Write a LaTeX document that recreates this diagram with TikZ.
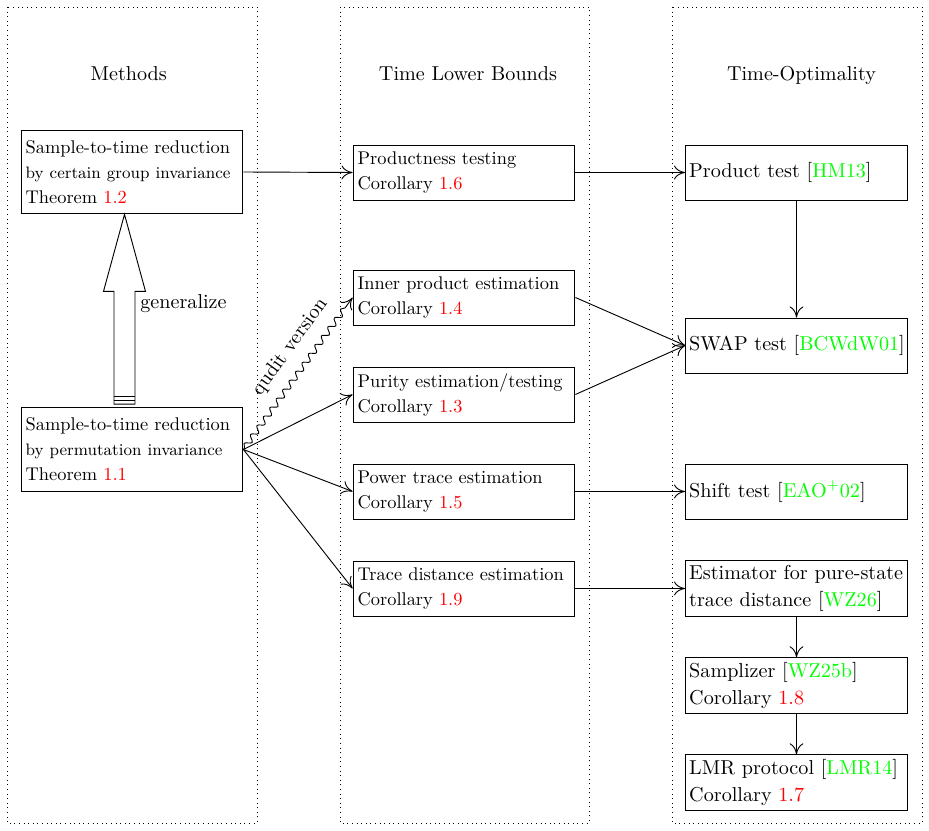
\documentclass[tikz,border=0pt]{standalone}
\usetikzlibrary{decorations.pathmorphing,arrows.meta,calc}
\begin{document}
\begin{tikzpicture}[x=0.5435pt,y=-0.5435pt,
  box/.style={draw, line width=0.5pt, rectangle, inner sep=2.5pt, text width=115.6pt,
    minimum height=29.9pt, align=left, font=\fontsize{10}{13.6}\selectfont},
  rbox/.style={box, inner xsep=2pt, text width=116.6pt, font=\fontsize{10.95}{14.6}\selectfont},
  bigbox/.style={box, minimum height=45.6pt},
  col/.style={draw, dotted, line width=0.5pt},
  head/.style={anchor=base, font=\fontsize{10.95}{13.6}\selectfont},
  lbl/.style={font=\fontsize{10.95}{13.6}\selectfont},
  conn/.style={-{To[length=6pt,width=7.5pt]}, line width=0.5pt},
]
\useasboundingbox (0,0) rectangle (929,831);

% columns
\draw[col] (7,7) rectangle (257,823);
\draw[col] (340,7) rectangle (589,823);
\draw[col] (672,7) rectangle (922,823);

\node[head] (h1) at (128.7,80.5) {Methods};
\node[head] (h2) at (468,80.5) {Time Lower Bounds};
\node[head] (h3) at (801.5,80.5) {Time-Optimality};

% left column
\node[bigbox] (A) at (132,172) {Sample-to-time reduction\\{\fontsize{9}{13.6}\selectfont by certain group invariance}\\Theorem \textcolor{red}{1.2}};
\node[bigbox] (B) at (132,449.5) {Sample-to-time reduction\\{\fontsize{9}{13.6}\selectfont by permutation invariance}\\Theorem \textcolor{red}{1.1}};

% middle column
\node[box] (prod) at (464,172.5) {Productness testing\\Corollary \textcolor{red}{1.6}};
\node[box] (inner) at (464,297.5) {Inner product estimation\\Corollary \textcolor{red}{1.4}};
\node[box] (pur) at (464,394.5) {Purity estimation/testing\\Corollary \textcolor{red}{1.3}};
\node[box] (pow) at (464,491.5) {Power trace estimation\\Corollary \textcolor{red}{1.5}};
\node[box] (trd) at (464,588.5) {Trace distance estimation\\Corollary \textcolor{red}{1.9}};

% right column
\node[rbox] (ptest) at (796.5,172.5) {Product test [\textcolor{green}{HM13}]};
\node[rbox] (swap) at (796.5,345.5) {\mbox{SWAP test [\textcolor{green}{BCWdW01}]}};
\node[rbox] (shift) at (796.5,491.5) {Shift test [\textcolor{green}{EAO$^+$02}]};
\node[rbox] (est) at (796.5,588.5) {\mbox{Estimator for pure-state}\\trace distance [\textcolor{green}{WZ26}]};
\node[rbox] (samp) at (796.5,685.5) {Samplizer [\textcolor{green}{WZ25b}]\\Corollary \textcolor{red}{1.8}};
\node[rbox] (lmr) at (796.5,782.5) {LMR protocol [\textcolor{green}{LMR14}]\\Corollary \textcolor{red}{1.7}};

% connectors
\draw[conn] (A.east) -- (prod.west);
\draw[conn] (prod.east) -- (ptest.west);
\draw[conn] (ptest.south) -- (swap.north);
\draw[conn] (inner.east) -- (swap.west);
\draw[conn] (pur.east) -- (swap.west);
\draw[conn] (pow.east) -- (shift.west);
\draw[conn] (trd.east) -- (est.west);
\draw[conn] (est.south) -- (samp.north);
\draw[conn] (samp.south) -- (lmr.north);
\draw[conn] (B.east) -- (pur.west);
\draw[conn] (B.east) -- (pow.west);
\draw[conn] (B.east) -- (trd.west);
\draw[conn, decorate, decoration={snake, amplitude=1.6pt, segment length=6pt, pre length=1pt, post length=4pt}]
  (B.east) -- node[pos=0.59, sloped, above=3.5pt, lbl] {qudit version} (inner.west);

% big "generalize" arrow
\coordinate (gt) at ($(A.south)+(-7.5,0)$);
\coordinate (gb) at ($(B.north)+(-7.5,-3)$);
\draw[line width=0.5pt] ($(gb)+(-10.5,0)$) -- ($(gt)+(-10.5,77)$) -- ($(gt)+(-21,77)$) -- (gt)
  -- ($(gt)+(21,77)$) -- ($(gt)+(10.5,77)$) -- ($(gb)+(10.5,0)$) -- cycle;
\draw[line width=0.5pt] ($(gb)+(-10.5,-8)$) -- ($(gb)+(10.5,-8)$);
\draw[line width=0.5pt] ($(gb)+(-10.5,-4)$) -- ($(gb)+(10.5,-4)$);
\node[lbl, anchor=west, inner sep=0pt] (gen) at ($(gt)+(15.5,89)$) {generalize};
\end{tikzpicture}
\end{document}
